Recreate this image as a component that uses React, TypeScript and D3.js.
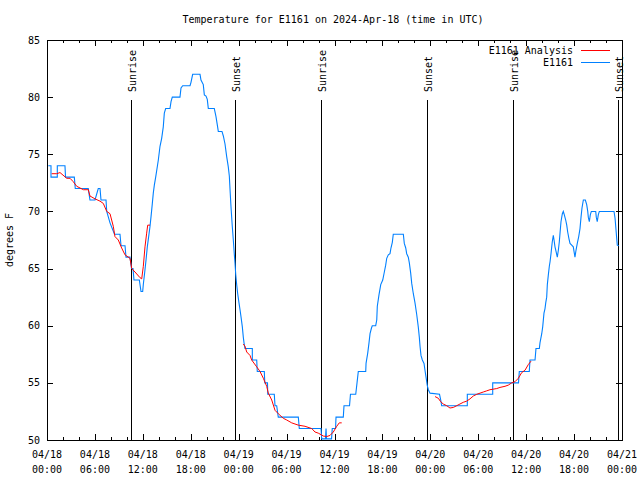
import React from "react";
import * as d3 from "d3";

// [hours since 2024-04-18 00:00 UTC, degrees F]
const stationSeries: [number, number][] = [
  [0.16,74],[0.5,74],[0.5,73],[1.29,73],[1.29,74],[2.25,74],[2.32,73],[3.42,73],[3.54,72],[5.17,72],
  [5.38,71],[6.01,71],[6.42,72],[6.64,72],[6.76,71],[7.39,71],[7.48,70],[7.89,69],[8.45,68],[9.14,68],
  [9.27,67],[9.77,67],[9.89,66],[10.39,66],[10.58,65],[10.77,65],[10.89,64],[11.56,64],[11.77,63],[11.98,63],
  [12.06,63.6],[12.27,64.9],[12.4,65.75],[12.56,66.9],[12.73,67.8],[12.9,68.7],[13.02,69.5],[13.19,70.7],[13.31,71.6],[13.44,72.3],
  [13.61,73],[13.94,74.5],[14.15,75.7],[14.36,76.4],[14.56,77.4],[14.69,78.6],[14.86,79],[15.4,79],[15.53,79.6],[15.69,80],
  [16.65,80],[16.78,80.8],[16.99,81],[17.91,81],[18.03,81.3],[18.24,82],[19.16,82],[19.28,81.5],[19.57,81.1],[19.7,80.2],
  [19.91,80.1],[20.07,79.8],[20.2,79],[20.95,79],[21.16,78.3],[21.32,77.6],[21.45,77],[21.91,77],[22.08,76.6],[22.29,75.9],
  [22.5,74.8],[22.7,73.9],[22.83,73.1],[22.92,71.9],[23.04,70.4],[23.2,68.7],[23.33,67.5],[23.45,66.3],[23.54,65.5],[23.63,64.5],
  [23.75,63.6],[23.88,62.8],[24.04,62],[24.17,61.4],[24.29,60.8],[24.46,59.9],[24.58,59],[24.67,58.5],[24.79,58],[25.71,58],
  [25.71,57],[26.26,57],[26.33,56],[27.21,56],[27.27,55],[27.61,55],[27.64,54],[28.46,54],[28.55,53],[28.76,53],
  [28.96,52],[31.47,52],[31.59,51],[34.31,51],[34.4,50.1],[34.87,50.1],[34.94,51],[35.0,50.1],[35.63,50.1],[35.72,51],
  [36.13,51],[36.19,52],[37.1,52],[37.19,53],[37.88,53],[38.0,54],[38.66,54],[38.82,55],[38.98,56],[39.91,56],
  [39.95,56.7],[40.16,57.6],[40.32,58.5],[40.45,59.3],[40.63,59.8],[40.73,60],[41.16,60],[41.29,60.5],[41.36,61.7],[41.57,62.7],
  [41.79,63.6],[42.04,64],[42.24,64.7],[42.41,65.3],[42.54,65.9],[42.74,66.2],[42.95,66.3],[43.07,66.8],[43.24,67.3],[43.36,68],
  [44.62,68],[44.74,67.2],[44.92,66.8],[45.04,66.3],[45.24,66],[45.37,65.5],[45.54,64.6],[45.67,63.7],[45.87,62.8],[46.08,62],
  [46.29,61],[46.49,59.9],[46.62,59],[46.71,58.2],[46.83,57.4],[47.0,57],[47.21,56.7],[47.33,56.1],[47.46,55.5],[47.62,54.75],
  [47.75,54.4],[47.96,54.1],[49.15,54],[49.3,53.5],[49.42,53],[52.63,53],[52.63,54],[55.81,54],[55.81,55],[59.04,55],
  [59.14,56],[60.39,56],[60.48,57],[61.11,57],[61.23,58],[61.65,58],[61.73,58.5],[61.95,59.3],[62.07,59.9],[62.23,61.1],
  [62.36,61.5],[62.45,62],[62.57,62.5],[62.65,63.6],[62.77,64.4],[62.9,65.2],[62.99,65.6],[63.11,66.3],[63.2,66.9],[63.27,67.35],
  [63.4,67.9],[63.49,67.5],[63.61,66.9],[63.74,66.5],[63.9,66],[64.03,66.6],[64.15,67.35],[64.24,68.1],[64.36,69.1],[64.53,69.8],
  [64.65,70],[64.78,69.7],[64.95,69.25],[65.08,68.8],[65.2,68.2],[65.36,67.6],[65.49,67.2],[65.7,67.05],[65.9,66.9],[66.11,66],
  [66.24,66.6],[66.4,67.2],[66.58,67.8],[66.74,68.5],[66.87,69.5],[66.99,70.3],[67.16,71],[67.41,71],[67.58,70.6],[67.71,70],
  [67.78,69.5],[67.91,69.1],[68.03,69.7],[68.16,70],[68.71,70],[68.78,69.5],[68.9,69.1],[69.03,69.7],[69.16,70],[71.0,70],
  [71.13,69.4],[71.25,68.4],[71.34,67.6],[71.41,67.05],[71.59,67],
];

const analysisSeg1: [number, number][] = [
  [0.59,73.3],[1.21,73.3],[1.63,73.4],[2.47,72.9],[2.88,72.9],[3.29,72.6],[3.72,72.2],[4.55,71.9],[5.17,71.9],[5.38,71.35],
  [6.01,71.1],[6.64,70.9],[7.05,70.7],[7.48,70],[7.89,69.8],[8.3,68.7],[8.51,67.8],[8.93,67.5],[9.35,66.8],[9.77,66.2],
  [10.39,65.9],[10.61,65],[11.02,64.7],[11.65,64.2],[11.86,64.1],[12.06,65.2],[12.27,66.9],[12.48,68.1],[12.61,68.8],[12.9,68.8],
];
const analysisSeg2: [number, number][] = [
  [24.58,58.4],[24.79,58.2],[25.01,57.7],[25.42,57.4],[25.63,57],[26.26,56.4],[26.67,56],[27.09,55.4],[27.51,54.7],[27.71,54.1],
  [28.14,53.5],[28.55,52.6],[28.96,52.3],[29.59,51.9],[30.02,51.75],[30.64,51.5],[31.47,51.3],[32.31,51.2],[33.15,51],[33.56,50.7],
  [33.97,50.6],[34.6,50.35],[35.02,50.3],[35.44,50.4],[35.85,50.7],[36.28,51.2],[36.6,51.5],[36.9,51.5],
];
const analysisSeg3: [number, number][] = [
  [48.59,53.8],[49.0,53.65],[49.3,53.35],[49.62,53.15],[50.05,53],[50.46,52.8],[50.88,52.85],[51.3,53],[51.71,53.15],[52.13,53.3],
  [52.55,53.4],[52.97,53.6],[53.38,53.85],[53.81,54],[54.22,54.1],[54.63,54.2],[55.06,54.3],[55.47,54.4],[56.31,54.5],[56.72,54.6],
  [57.35,54.7],[57.76,54.8],[58.19,55],[58.6,55.1],[59.02,55.4],[59.44,55.9],[59.85,56.1],[60.27,56.6],[60.61,56.9],
];

const sunEventHours = [10.48, 23.58, 34.31, 47.62, 58.39, 71.5];
const sunEventLabels = ["Sunrise", "Sunset", "Sunrise", "Sunset", "Sunrise", "Sunset"];
const yTicks = [50, 55, 60, 65, 70, 75, 80, 85];

const T0 = Date.UTC(2024, 3, 18);
const toDate = (h: number) => new Date(T0 + h * 3600e3);

const FONT = "'DejaVu Sans Mono', monospace";

export default function App() {
  const W = 640, H = 480;
  const L = 47, R = 622, T = 40, B = 440;
  const x = d3.scaleUtc().domain([toDate(0), toDate(72)]).range([L, R]);
  const y = d3.scaleLinear().domain([50, 85]).range([B, T]);

  const line = d3
    .line<[number, number]>()
    .x((d) => x(toDate(d[0])))
    .y((d) => y(d[1]));

  const analysis = [analysisSeg1, analysisSeg2, analysisSeg3];

  const majorX = x.ticks(d3.utcHour.every(6)!);
  const minorX = x.ticks(d3.utcHour.every(2)!).filter((d) => d.getUTCHours() % 6 !== 0);
  const fmtDate = d3.utcFormat("%m/%d");
  const fmtTime = d3.utcFormat("%H:%M");

  return (
    <svg width={W} height={H} style={{ display: "block", position: "absolute", left: 0, top: 0, background: "#fff" }} fontFamily={FONT} fontSize={10}>
      <rect x={0} y={0} width={W} height={H} fill="#fff" />
      <defs>
        <clipPath id="plotclip">
          <rect x={L} y={T} width={R - L} height={B - T + 1} />
        </clipPath>
      </defs>
      <text x={333} y={23} textAnchor="middle">Temperature for E1161 on 2024-Apr-18 (time in UTC)</text>
      <text transform={`translate(13,${(T + B) / 2}) rotate(-90)`} textAnchor="middle">degrees F</text>

      {yTicks.map((v) => (
        <g key={"y" + v}>
          <line x1={L} x2={L + 6} y1={Math.round(y(v)) + 0.5} y2={Math.round(y(v)) + 0.5} stroke="#000" />
          <line x1={R - 6} x2={R} y1={Math.round(y(v)) + 0.5} y2={Math.round(y(v)) + 0.5} stroke="#000" />
          <text x={40} y={y(v) + 3.5} textAnchor="end">{v}</text>
        </g>
      ))}

      {majorX.map((d, i) => {
        const xx = Math.round(x(d)) + 0.5;
        return (
          <g key={"xm" + i}>
            <line x1={xx} x2={xx} y1={B} y2={B - 6} stroke="#000" />
            <line x1={xx} x2={xx} y1={T} y2={T + 6} stroke="#000" />
            <text x={x(d)} y={458} textAnchor="middle">{fmtDate(d)}</text>
            <text x={x(d)} y={473} textAnchor="middle">{fmtTime(d)}</text>
          </g>
        );
      })}
      {minorX.map((d, i) => {
        const xx = Math.round(x(d)) + 0.5;
        return (
          <g key={"xn" + i}>
            <line x1={xx} x2={xx} y1={B} y2={B - 3} stroke="#000" />
            <line x1={xx} x2={xx} y1={T} y2={T + 3} stroke="#000" />
          </g>
        );
      })}

      {sunEventHours.map((h, i) => {
        const xx = Math.round(x(toDate(h))) + 0.5;
        return (
          <g key={"s" + i}>
            <line x1={xx} x2={xx} y1={100} y2={B} stroke="#000" />
            <text transform={`translate(${xx + 4},92) rotate(-90)`} textAnchor="start">{sunEventLabels[i]}</text>
          </g>
        );
      })}

      <g clipPath="url(#plotclip)">
        <path d={line(stationSeries) || ""} fill="none" stroke="#0080ff" strokeWidth={1.1} />
        {analysis.map((seg, i) => (
          <path key={"a" + i} d={line(seg) || ""} fill="none" stroke="#ff0000" strokeWidth={1} />
        ))}
      </g>

      <text x={573} y={54} textAnchor="end">E1161 Analysis</text>
      <line x1={581} x2={610} y1={50.5} y2={50.5} stroke="#ff0000" />
      <text x={573} y={66} textAnchor="end">E1161</text>
      <line x1={581} x2={610} y1={62.5} y2={62.5} stroke="#0080ff" />

      <rect x={L + 0.5} y={T + 0.5} width={R - L} height={B - T} fill="none" stroke="#000" />
    </svg>
  );
}
